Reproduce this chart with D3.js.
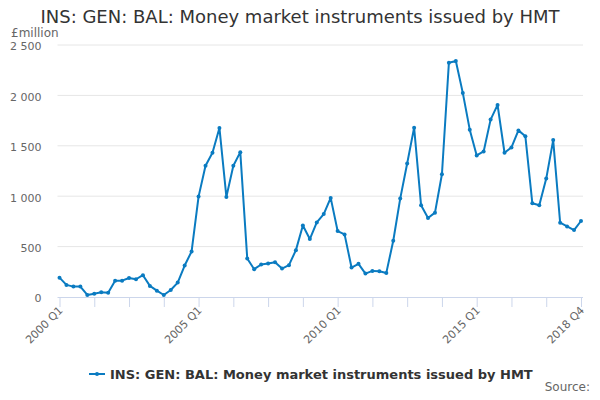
<!DOCTYPE html>
<html><head><meta charset="utf-8">
<script src="https://cdn.jsdelivr.net/npm/d3@7"></script>
<style>body{margin:0;background:#fff}svg{display:block;font-family:"DejaVu Sans",sans-serif}</style>
</head><body><svg id="c" width="600" height="400"></svg>
<script>
const title = "INS: GEN: BAL: Money market instruments issued by HMT";
const seriesName = "INS: GEN: BAL: Money market instruments issued by HMT";
const unitLabel = "£million";
const sourceLabel = "Source:";
const categories = [];
for (let yr = 2000; yr <= 2018; yr++) for (let q = 1; q <= 4; q++) categories.push(yr + " Q" + q);
const values = [192,120,103,103,20,33,47,43,162,162,189,176,216,110,63,20,70,143,312,452,
  996,1302,1431,1677,993,1302,1437,382,276,322,332,345,282,316,465,710,575,740,823,983,
  654,621,292,329,232,259,256,239,558,976,1325,1680,910,784,837,1218,2324,2341,2025,1660,
  1404,1444,1760,1906,1431,1484,1653,1594,930,910,1175,1557,737,700,664,754];
const yTicks = [0,500,1000,1500,2000,2500];
const xLabels = ["2000 Q1","2005 Q1","2010 Q1","2015 Q1","2018 Q4"];

const svg = d3.select("#c");
const pL = 59.5, pR = 581, pT = 45, pB = 297;
const x = d3.scalePoint().domain(categories).range([pL, pR]);
const y = d3.scaleLinear().domain([0, 2500]).range([pB, pT]);
const fmt = v => d3.format(",")(v).replace(/,/g, " ");
const blue = "#0a7bc1";

svg.append("text").attr("x", 300).attr("y", 23).attr("text-anchor", "middle")
  .attr("font-size", 18).attr("fill", "#333").text(title);
svg.append("text").attr("x", 11).attr("y", 36.5).attr("font-size", 12).attr("fill", "#666").text(unitLabel);

// grid
svg.append("g").selectAll("line").data(yTicks.filter(d => d > 0)).join("line")
  .attr("x1", pL - 2).attr("x2", 583).attr("y1", d => y(d)).attr("y2", d => y(d))
  .attr("stroke", "#e6e6e6").attr("stroke-width", 1);
const ya = svg.append("g").attr("transform", `translate(${pL},0)`)
  .call(d3.axisLeft(y).tickValues(yTicks).tickFormat(fmt).tickSize(0).tickPadding(18));
ya.select(".domain").remove();
ya.selectAll("text").attr("font-size", 11).attr("fill", "#666").attr("font-family", "DejaVu Sans, sans-serif")
  .attr("dy", "0.45em");

// x axis
const tickCats = categories.filter((d, i) => i % 5 === 0);
const xa = svg.append("g").attr("transform", `translate(0,${pB})`)
  .call(d3.axisBottom(x).tickValues(tickCats).tickSize(10).tickFormat(""));
xa.select(".domain").attr("d", `M${pL - 2},0.5H583`).attr("stroke", "#ccd6eb");
xa.selectAll(".tick line").attr("stroke", "#ccd6eb");
svg.append("g").selectAll("text").data(xLabels).join("text")
  .attr("transform", d => `translate(${x(d) + 4},${pB + 14}) rotate(-45)`)
  .attr("text-anchor", "end").attr("font-size", 11).attr("fill", "#666").text(d => d);

// line
const pts = categories.map((c, i) => [c, values[i]]);
svg.append("path").datum(pts).attr("fill", "none").attr("stroke", blue).attr("stroke-width", 2)
  .attr("stroke-linejoin", "round")
  .attr("d", d3.line().x(d => x(d[0])).y(d => y(d[1])));
svg.append("g").selectAll("circle").data(pts).join("circle")
  .attr("cx", d => x(d[0])).attr("cy", d => y(d[1])).attr("r", 2).attr("fill", blue);

// legend
const lg = svg.append("g");
lg.append("line").attr("x1", 89).attr("x2", 105).attr("y1", 374).attr("y2", 374).attr("stroke", blue).attr("stroke-width", 2);
lg.append("circle").attr("cx", 97).attr("cy", 374).attr("r", 2).attr("fill", blue);
lg.append("text").attr("x", 110).attr("y", 378.5).attr("font-size", 13).attr("font-weight", "bold")
  .attr("fill", "#333").text(seriesName);
svg.append("text").attr("x", 590).attr("y", 391).attr("text-anchor", "end").attr("font-size", 12)
  .attr("fill", "#666").text(sourceLabel);
</script></body></html>
